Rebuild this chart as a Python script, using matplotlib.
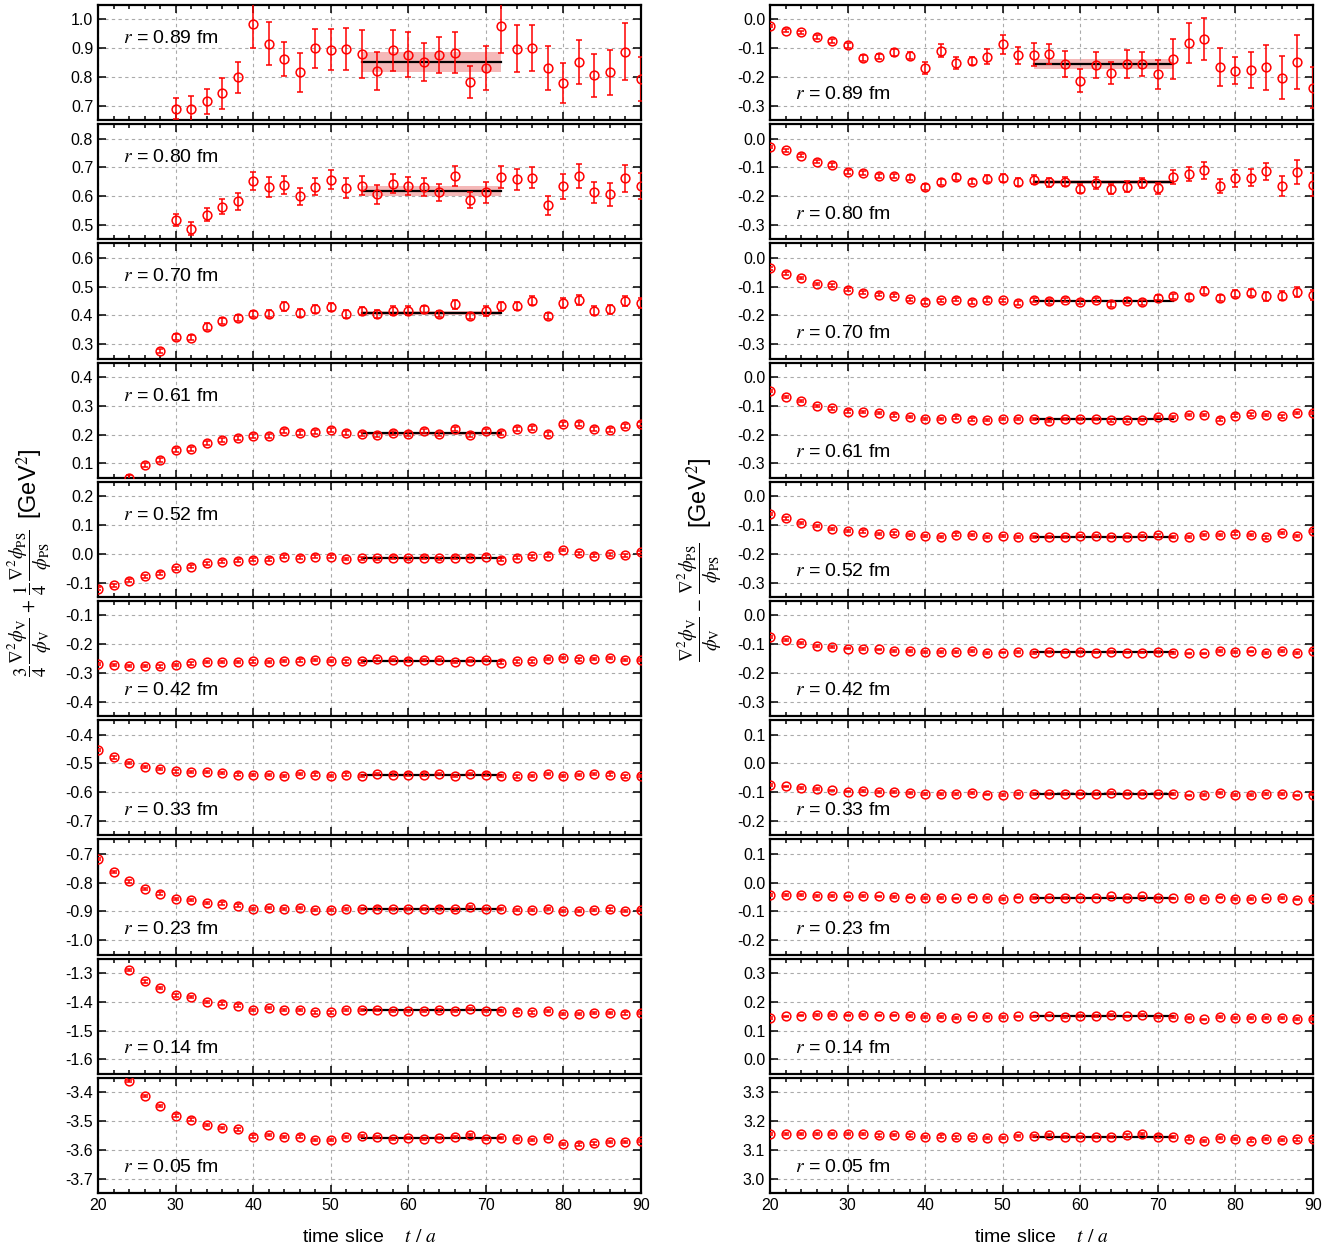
import numpy as np
import matplotlib
matplotlib.use('Agg')
import matplotlib.pyplot as plt
from matplotlib.ticker import MultipleLocator, FormatStrFormatter

plt.rcParams['font.family'] = ['Liberation Sans', 'DejaVu Sans']
plt.rcParams['mathtext.fontset'] = 'stix'
plt.rcParams['axes.unicode_minus'] = False

nan = np.nan
t = np.arange(20, 92, 2)
radii = ['0.89', '0.80', '0.70', '0.61', '0.52', '0.42', '0.33', '0.23', '0.14', '0.05']

# 3/4 V + 1/4 PS combination (left column)
sum_089 = [nan, nan, nan, nan, nan, 0.690, 0.688, 0.716, 0.743, 0.799, 0.985, 0.915, 0.861, 0.816, 0.899, 0.895,
           0.898, 0.880, 0.820, 0.893, 0.878, 0.851, 0.877, 0.884, 0.783, 0.831, 0.977, 0.898, 0.902, 0.832,
           0.780, 0.851, 0.806, 0.816, 0.888, 0.793]
sum_089_err = [nan, nan, nan, nan, nan, .037, .045, .044, .053, .053, .083, .075, .059, .067, .067, .070, .072, .082,
               .066, .071, .077, .066, .062, .071, .055, .075, .092, .082, .080, .077, .070, .077, .074, .079, .098, .078]
sum_080 = [nan, nan, nan, nan, nan, 0.516, 0.487, 0.536, 0.564, 0.582, 0.652, 0.632, 0.639, 0.599, 0.633, 0.657,
           0.629, 0.636, 0.606, 0.644, 0.635, 0.632, 0.614, 0.670, 0.588, 0.614, 0.667, 0.658, 0.664, 0.569,
           0.634, 0.670, 0.613, 0.606, 0.662, 0.635]
sum_080_err = [nan, nan, nan, nan, nan, .021, .023, .022, .025, .029, .031, .035, .032, .030, .030, .033, .035, .033,
               .033, .033, .032, .031, .029, .036, .028, .037, .038, .037, .037, .033, .042, .042, .036, .040, .046, .045]
sum_070 = [nan, nan, nan, nan, 0.277, 0.325, 0.323, 0.361, 0.380, 0.391, 0.405, 0.406, 0.432, 0.408, 0.422, 0.430,
           0.405, 0.414, 0.405, 0.417, 0.417, 0.421, 0.405, 0.439, 0.398, 0.415, 0.431, 0.433, 0.451, 0.398,
           0.442, 0.454, 0.417, 0.421, 0.450, 0.444]
sum_070_err = [nan, nan, nan, nan, .006, .010, .008, .012, .010, .010, .012, .012, .016, .014, .014, .013, .013, .014,
               .013, .014, .014, .013, .011, .016, .011, .016, .015, .015, .016, .012, .017, .018, .015, .015, .018, .018]
sum_061 = [nan, nan, 0.051, 0.093, 0.113, 0.145, 0.150, 0.172, 0.182, 0.188, 0.194, 0.195, 0.213, 0.206, 0.210,
           0.216, 0.205, 0.203, 0.200, 0.205, 0.202, 0.213, 0.201, 0.220, 0.200, 0.212, 0.207, 0.220, 0.223,
           0.203, 0.238, 0.236, 0.218, 0.217, 0.231, 0.237]
sum_052 = [-0.122, -0.110, -0.093, -0.078, -0.069, -0.050, -0.045, -0.033, -0.028, -0.024, -0.021, -0.021, -0.010,
           -0.014, -0.010, -0.010, -0.018, -0.016, -0.015, -0.014, -0.016, -0.013, -0.016, -0.014, -0.013, -0.010,
           -0.020, -0.014, -0.009, -0.007, 0.013, 0.002, -0.007, -0.002, -0.005, 0.005]
sum_042 = [-0.268, -0.272, -0.276, -0.275, -0.277, -0.272, -0.267, -0.262, -0.261, -0.263, -0.260, -0.263, -0.259,
           -0.257, -0.255, -0.259, -0.260, -0.260, -0.253, -0.256, -0.257, -0.256, -0.256, -0.261, -0.259, -0.255,
           -0.264, -0.260, -0.260, -0.251, -0.247, -0.253, -0.252, -0.249, -0.256, -0.255]
sum_033 = [-0.454, -0.479, -0.498, -0.513, -0.520, -0.528, -0.529, -0.531, -0.534, -0.539, -0.541, -0.541, -0.543,
           -0.538, -0.539, -0.543, -0.539, -0.543, -0.537, -0.539, -0.539, -0.539, -0.538, -0.543, -0.537, -0.539,
           -0.544, -0.545, -0.544, -0.537, -0.543, -0.541, -0.537, -0.539, -0.545, -0.544]
sum_023 = [-0.717, -0.763, -0.796, -0.823, -0.838, -0.856, -0.860, -0.870, -0.873, -0.880, -0.891, -0.888, -0.892,
           -0.887, -0.894, -0.895, -0.891, -0.891, -0.890, -0.892, -0.891, -0.891, -0.890, -0.893, -0.885, -0.892,
           -0.892, -0.894, -0.895, -0.892, -0.899, -0.898, -0.894, -0.893, -0.898, -0.895]
sum_014 = [nan, nan, -1.290, -1.329, -1.352, -1.378, -1.383, -1.400, -1.406, -1.413, -1.429, -1.422, -1.429, -1.428,
           -1.437, -1.437, -1.429, -1.428, -1.429, -1.433, -1.431, -1.431, -1.430, -1.431, -1.424, -1.432, -1.431,
           -1.434, -1.437, -1.433, -1.443, -1.443, -1.439, -1.438, -1.441, -1.438]
sum_005 = [nan, nan, -3.361, -3.414, -3.448, -3.481, -3.495, -3.515, -3.525, -3.529, -3.554, -3.548, -3.555, -3.554,
           -3.567, -3.567, -3.555, -3.553, -3.556, -3.562, -3.560, -3.562, -3.558, -3.556, -3.548, -3.562, -3.558,
           -3.562, -3.566, -3.560, -3.579, -3.582, -3.578, -3.574, -3.574, -3.569]

# V - PS difference (right column)
diff_089 = [-0.023, -0.039, -0.045, -0.061, -0.075, -0.090, -0.134, -0.129, -0.114, -0.126, -0.168, -0.109, -0.152,
            -0.145, -0.129, -0.087, -0.125, -0.122, -0.121, -0.155, -0.213, -0.157, -0.186, -0.155, -0.155, -0.191,
            -0.137, -0.083, -0.068, -0.166, -0.179, -0.175, -0.167, -0.202, -0.148, -0.237]
diff_089_err = [.005, .005, .005, .006, .006, .008, .010, .010, .012, .013, .020, .022, .020, .015, .025, .032, .030,
                .040, .035, .045, .040, .045, .037, .048, .042, .050, .070, .070, .072, .065, .047, .063, .077, .075,
                .095, .070]
diff_080 = [-0.028, -0.040, -0.059, -0.080, -0.091, -0.116, -0.121, -0.129, -0.129, -0.136, -0.168, -0.150, -0.134,
            -0.149, -0.140, -0.137, -0.150, -0.143, -0.152, -0.149, -0.174, -0.155, -0.175, -0.167, -0.155, -0.173,
            -0.134, -0.123, -0.110, -0.165, -0.138, -0.136, -0.114, -0.165, -0.115, -0.161]
diff_080_err = [.004, .005, .005, .006, .006, .007, .007, .007, .007, .008, .010, .010, .010, .010, .012, .013, .013,
                .015, .015, .017, .015, .020, .016, .020, .018, .020, .025, .025, .030, .025, .030, .030, .030, .035,
                .042, .040]
diff_070 = [-0.037, -0.055, -0.071, -0.091, -0.095, -0.111, -0.122, -0.128, -0.131, -0.144, -0.154, -0.148, -0.145,
            -0.153, -0.146, -0.148, -0.157, -0.147, -0.151, -0.146, -0.154, -0.147, -0.161, -0.149, -0.155, -0.138,
            -0.134, -0.137, -0.114, -0.139, -0.124, -0.121, -0.134, -0.132, -0.118, -0.129]
diff_070_err = [.004, .004, .004, .004, .005, .005, .005, .005, .005, .006, .006, .006, .006, .006, .006, .006, .007,
                .007, .008, .007, .008, .008, .009, .008, .008, .010, .010, .010, .012, .010, .012, .013, .015, .015,
                .017, .017]
diff_061 = [-0.049, -0.070, -0.083, -0.100, -0.109, -0.120, -0.122, -0.126, -0.134, -0.139, -0.145, -0.145, -0.141,
            -0.148, -0.149, -0.147, -0.146, -0.146, -0.152, -0.145, -0.146, -0.146, -0.151, -0.151, -0.149, -0.138,
            -0.138, -0.133, -0.133, -0.148, -0.134, -0.130, -0.132, -0.137, -0.125, -0.124]
diff_052 = [-0.063, -0.077, -0.092, -0.103, -0.114, -0.121, -0.123, -0.131, -0.129, -0.134, -0.137, -0.142, -0.133,
            -0.134, -0.142, -0.138, -0.141, -0.141, -0.142, -0.141, -0.137, -0.138, -0.142, -0.141, -0.137, -0.136,
            -0.142, -0.141, -0.134, -0.134, -0.130, -0.134, -0.143, -0.128, -0.137, -0.121]
diff_042 = [-0.074, -0.085, -0.095, -0.105, -0.110, -0.115, -0.116, -0.118, -0.123, -0.123, -0.128, -0.126, -0.126,
            -0.123, -0.130, -0.129, -0.128, -0.131, -0.128, -0.129, -0.128, -0.129, -0.126, -0.129, -0.129, -0.126,
            -0.130, -0.132, -0.132, -0.124, -0.126, -0.125, -0.130, -0.123, -0.130, -0.122]
diff_033 = [-0.074, -0.080, -0.085, -0.090, -0.094, -0.098, -0.097, -0.099, -0.100, -0.102, -0.106, -0.105, -0.106,
            -0.102, -0.108, -0.110, -0.107, -0.107, -0.105, -0.107, -0.107, -0.107, -0.103, -0.105, -0.106, -0.106,
            -0.107, -0.111, -0.110, -0.103, -0.109, -0.109, -0.106, -0.106, -0.111, -0.108]
diff_023 = [-0.042, -0.042, -0.043, -0.046, -0.046, -0.048, -0.046, -0.048, -0.050, -0.052, -0.053, -0.053, -0.055,
            -0.052, -0.054, -0.057, -0.052, -0.053, -0.052, -0.053, -0.052, -0.052, -0.048, -0.053, -0.048, -0.053,
            -0.055, -0.054, -0.058, -0.052, -0.057, -0.057, -0.055, -0.054, -0.059, -0.057]
diff_014 = [0.145, 0.149, 0.152, 0.153, 0.154, 0.152, 0.153, 0.152, 0.152, 0.151, 0.146, 0.147, 0.145, 0.149, 0.146,
            0.146, 0.149, 0.149, 0.152, 0.148, 0.151, 0.151, 0.153, 0.149, 0.155, 0.147, 0.147, 0.145, 0.139, 0.146,
            0.143, 0.144, 0.143, 0.143, 0.140, 0.141]
diff_005 = [3.155, 3.155, 3.156, 3.155, 3.156, 3.154, 3.154, 3.150, 3.151, 3.150, 3.144, 3.146, 3.143, 3.143, 3.140,
            3.140, 3.148, 3.148, 3.151, 3.144, 3.144, 3.144, 3.145, 3.150, 3.155, 3.146, 3.145, 3.139, 3.131, 3.142,
            3.137, 3.132, 3.137, 3.135, 3.136, 3.136]

sum_values = [sum_089, sum_080, sum_070, sum_061, sum_052, sum_042, sum_033, sum_023, sum_014, sum_005]
sum_errors = [sum_089_err, sum_080_err, sum_070_err, 0.007, 0.005, 0.004, 0.004, 0.004, 0.004, 0.004]
diff_values = [diff_089, diff_080, diff_070, diff_061, diff_052, diff_042, diff_033, diff_023, diff_014, diff_005]
diff_errors = [diff_089_err, diff_080_err, diff_070_err, 0.004, 0.004, 0.003, 0.003, 0.003, 0.003, 0.004]

# plateau fits over t/a = 54..72: central value and half-width of band
fit_range = (54, 72)
sum_fit = [0.853, 0.618, 0.409, 0.205, -0.015, -0.257, -0.540, -0.891, -1.430, -3.558]
sum_fit_err = [0.035, 0.018, 0.008, 0.005, 0.003, 0.003, 0.003, 0.003, 0.003, 0.003]
diff_fit = [-0.155, -0.152, -0.149, -0.147, -0.140, -0.128, -0.106, -0.053, 0.151, 3.145]
diff_fit_err = [0.018, 0.007, 0.004, 0.003, 0.003, 0.003, 0.003, 0.003, 0.003, 0.003]

# lower y limit of each panel (each panel spans 0.4)
sum_ylo = [0.65, 0.45, 0.25, 0.05, -0.15, -0.45, -0.75, -1.05, -1.65, -3.75]
diff_ylo = [-0.35, -0.35, -0.35, -0.35, -0.35, -0.35, -0.25, -0.25, -0.05, 2.95]
sum_label_top = [True] * 5 + [False] * 5
diff_label_top = [False] * 10

W, H = 1342, 1251
fig = plt.figure(figsize=(W / 100, H / 100), dpi=100)

top_px, bot_px, gap_px = 5, 1193, 4
ph = (bot_px - top_px - 9 * gap_px) / 10.0
cols = [(98, 641), (770, 1313)]


def draw_column(x0, x1, values, errors, fits, fit_errs, ylos, label_top):
    axes = []
    for i in range(10):
        ytop = top_px + i * (ph + gap_px)
        rect = [x0 / W, 1 - (ytop + ph) / H, (x1 - x0) / W, ph / H]
        ax = fig.add_axes(rect)
        y = np.asarray(values[i], dtype=float)
        err = errors[i]
        ax.fill_between(fit_range, fits[i] - fit_errs[i], fits[i] + fit_errs[i],
                        color='#f29a9a', alpha=0.7, lw=0, zorder=1)
        ax.plot(fit_range, [fits[i], fits[i]], color='black', lw=1.6, zorder=2)
        ax.errorbar(t, y, yerr=err, fmt='o', ms=6.3, mfc='none', mec='red', mew=1.1,
                    ecolor='red', elinewidth=1.1, capsize=2.2, capthick=1.1, zorder=3)
        ax.set_xlim(20, 90)
        ax.set_ylim(ylos[i], ylos[i] + 0.4)
        ax.xaxis.set_major_locator(MultipleLocator(10))
        ax.xaxis.set_minor_locator(MultipleLocator(2))
        ax.yaxis.set_major_locator(MultipleLocator(0.1))
        ax.yaxis.set_major_formatter(FormatStrFormatter('%.1f'))
        ax.tick_params(which='both', direction='in', top=True, right=True, labelsize=11.5, width=1.1)
        ax.tick_params(which='major', length=6)
        ax.tick_params(which='minor', length=3)
        ax.grid(True, which='major', color='#aaaaaa', lw=0.8, ls=(0, (3, 3)))
        for s in ax.spines.values():
            s.set_linewidth(1.6)
        if i < 9:
            ax.tick_params(labelbottom=False)
        ypos = 0.71 if label_top[i] else 0.22
        ax.text(0.046, ypos, r'$r$ = %s fm' % radii[i], transform=ax.transAxes,
                fontsize=14, va='center', ha='left')
        axes.append(ax)
    return axes


draw_column(*cols[0], sum_values, sum_errors, sum_fit, sum_fit_err, sum_ylo, sum_label_top)
draw_column(*cols[1], diff_values, diff_errors, diff_fit, diff_fit_err, diff_ylo, diff_label_top)

# y-axis titles: formula and unit as separate pieces so the unit can be larger
fig.text(30 / W, 1 - 603 / H,
         r'$\dfrac{3}{4}\,\dfrac{\nabla^2\phi_{\rm V}}{\phi_{\rm V}}\,+\,\dfrac{1}{4}\,\dfrac{\nabla^2\phi_{\rm PS}}{\phi_{\rm PS}}$',
         rotation=90, ha='center', va='center', fontsize=13.5)
fig.text(30 / W, 1 - 484 / H, r'[GeV$^2$]', rotation=90, ha='center', va='center', fontsize=17)
fig.text(700 / W, 1 - 602 / H,
         r'$\dfrac{\nabla^2\phi_{\rm V}}{\phi_{\rm V}}\,-\,\dfrac{\nabla^2\phi_{\rm PS}}{\phi_{\rm PS}}$',
         rotation=90, ha='center', va='center', fontsize=13.5)
fig.text(700 / W, 1 - 493 / H, r'[GeV$^2$]', rotation=90, ha='center', va='center', fontsize=17)
for x0, x1 in cols:
    fig.text((x0 + x1) / 2 / W, 1 - 1238 / H, r'time slice    $t\ /\ a$',
             ha='center', va='center', fontsize=14)

fig.savefig('out.png', dpi=100)
